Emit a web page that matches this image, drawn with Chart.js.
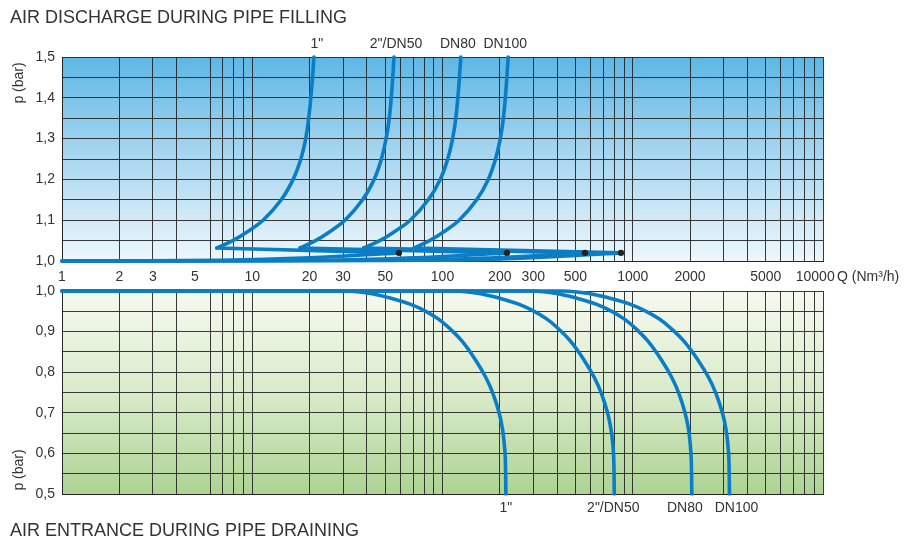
<!DOCTYPE html>
<html>
<head>
<meta charset="utf-8">
<script src="https://cdn.jsdelivr.net/npm/chart.js@4.4.0/dist/chart.umd.min.js"></script>
<style>
  body { margin: 0; background: #fff; }
  #wrap { position: relative; width: 907px; height: 540px; }
  #wrap canvas { position: absolute; left: 0; top: 0; }
</style>
</head>
<body>
<div id="wrap">
  <canvas id="fill" width="907" height="540"></canvas>
  <canvas id="drain" width="907" height="540"></canvas>
</div>
<script>
// valve sizes
const sizes = ['1"', '2"/DN50', 'DN80', 'DN100'];

// Q axis (Nm3/h), log scale
const qTicks = [1, 2, 3, 4, 5, 6, 7, 8, 9, 10, 20, 30, 40, 50, 60, 70, 80, 90,
  100, 200, 300, 400, 500, 600, 700, 800, 900, 1000, 2000, 3000, 4000, 5000,
  6000, 7000, 8000, 9000, 10000];
const qLabels = [1, 2, 3, 5, 10, 20, 30, 50, 100, 200, 300, 500, 1000, 2000, 5000, 10000];
const qNoLine = [5];

// filling: closing points (black dots)
const closeQ = [59, 218, 561, 867];
const closeP = [1.02, 1.02, 1.02, 1.02];

// filling: low branch from Q=1 up to the closing point
const fillBaseQ = [
  [1, 7, 20, 59],
  [1, 27, 73, 218],
  [1, 70, 187, 561],
  [1, 108, 289, 867]
];
const fillBaseP = [1.0, 1.002, 1.008, 1.02];

// filling: rising curves
const fillRiseP = [1.032, 1.05, 1.07, 1.1, 1.15, 1.2, 1.25, 1.3, 1.35, 1.42, 1.5];
const fillRiseQ = [
  [6.51, 7.9, 9.3, 11.4, 14.2, 16.4, 18.0, 19.1, 19.8, 20.5, 21.1],
  [17.8, 21.5, 25.2, 30.7, 38.0, 43.7, 47.7, 50.5, 52.5, 54.2, 55.6],
  [38.5, 46.8, 55.1, 67.7, 84.2, 97.3, 106.5, 113, 117.5, 121.4, 124.8],
  [70.9, 85.5, 100.3, 122.3, 151.2, 174, 189.9, 201.2, 208.9, 215.6, 221.5]
];

// draining curves
const drainP = [1.0, 1.0, 0.994, 0.981, 0.967, 0.95, 0.932, 0.912, 0.877, 0.829,
  0.787, 0.748, 0.702, 0.662, 0.623, 0.588, 0.5];
const drainQ = [
  [1, 31, 41.9, 54.8, 68.1, 81.7, 94.5, 106.6, 126.4, 149.7, 169, 184, 197.9, 206.4, 211.2, 213.8, 215.4],
  [1, 115.1, 155.8, 203.5, 253.1, 303.5, 351, 396.3, 469.5, 556.3, 628, 683.8, 735.2, 767, 784.9, 794.3, 800],
  [1, 294, 398.1, 519.8, 646.4, 775.2, 896.8, 1012, 1199, 1421, 1604, 1747, 1878, 1960, 2005, 2029, 2044],
  [1, 429.1, 588.3, 776.1, 973.6, 1176, 1368, 1552, 1852, 2209, 2505, 2736, 2952, 3085, 3160, 3200, 3224]
];

const blue = '#0b7dc5';
const gridColor = 'rgba(35,35,35,0.9)';
const textColor = '#333';
const font = '"Liberation Sans", Arial, Helvetica, sans-serif';

Chart.defaults.font.family = font;
Chart.defaults.font.size = 14;
Chart.defaults.color = textColor;

const pts = (qs, ps) => qs.map((q, i) => ({ x: q, y: ps[i] }));

function lineSet(data, tension) {
  return {
    type: 'line', data, borderColor: blue, borderWidth: 3.6,
    pointRadius: 0, fill: false, clip: 6, tension,
    borderCapStyle: 'round', borderJoinStyle: 'round'
  };
}

function xAxis(showLabels) {
  return {
    type: 'logarithmic', min: 1, max: 10000,
    afterBuildTicks: s => { s.ticks = qTicks.map(v => ({ value: v })); },
    afterFit: s => { s.height = showLabels ? 30 : 0; },
    grid: {
      drawTicks: false, lineWidth: 1,
      color: c => (c.tick && qNoLine.includes(c.tick.value)) ? 'rgba(0,0,0,0)' : gridColor
    },
    border: { color: gridColor },
    ticks: {
      display: showLabels, autoSkip: false, maxRotation: 0, padding: 8,
      callback: v => qLabels.includes(v) ? (v === 10000 ? '10000    ' : String(v)) : ''
    }
  };
}

function yAxis(min, max) {
  return {
    min, max,
    afterFit: s => { s.width = 62; },
    grid: { drawTicks: false, color: gridColor, lineWidth: 1 },
    border: { color: gridColor },
    ticks: {
      stepSize: 0.05, padding: 7,
      callback: v => Math.round(v * 100) % 10 === 0 ? v.toFixed(1).replace('.', ',') : ''
    }
  };
}

function bgPlugin(stops) {
  return {
    id: 'bg',
    beforeDraw(chart) {
      const { ctx, chartArea: a } = chart;
      const g = ctx.createLinearGradient(0, a.top, 0, a.bottom);
      stops.forEach(s => g.addColorStop(s[0], s[1]));
      ctx.save();
      ctx.fillStyle = g;
      ctx.fillRect(a.left, a.top, a.right - a.left, a.bottom - a.top);
      ctx.restore();
    }
  };
}

function vLabel(ctx, text, x, y) {
  ctx.save();
  ctx.translate(x, y);
  ctx.rotate(-Math.PI / 2);
  ctx.textAlign = 'center';
  ctx.textBaseline = 'middle';
  ctx.fillText(text, 0, 0);
  ctx.restore();
}

// filling chart
const fillSets = [];
sizes.forEach((s, i) => {
  fillSets.push(lineSet(pts(fillBaseQ[i], fillBaseP), 0.4));
  fillSets.push(lineSet([{ x: closeQ[i], y: closeP[i] }, { x: fillRiseQ[i][0], y: fillRiseP[0] }], 0));
  fillSets.push(lineSet(pts(fillRiseQ[i], fillRiseP), 0.4));
});
fillSets.push({
  type: 'line', data: pts(closeQ, closeP), showLine: false, order: -1,
  pointRadius: 3.2, pointBackgroundColor: '#222', pointBorderColor: '#222', pointBorderWidth: 0
});

const fillNudge = [3, 2, -3, -3];
new Chart('fill', {
  data: { datasets: fillSets },
  options: {
    responsive: false, animation: false,
    layout: { padding: { left: 0, top: 57, right: 84, bottom: 249 } },
    plugins: { legend: { display: false }, tooltip: { enabled: false } },
    scales: { x: xAxis(true), y: yAxis(1.0, 1.5) }
  },
  plugins: [
    bgPlugin([[0, '#5db7e6'], [0.45, '#a3d4ef'], [1, '#eef7fc']]),
    {
      id: 'fillText',
      afterDraw(chart) {
        const ctx = chart.ctx, x = chart.scales.x;
        ctx.save();
        ctx.fillStyle = textColor;
        ctx.font = '18px ' + font;
        ctx.textAlign = 'left';
        ctx.textBaseline = 'middle';
        ctx.fillText('AIR DISCHARGE DURING PIPE FILLING', 10, 18);
        ctx.font = '14px ' + font;
        vLabel(ctx, 'p (bar)', 19, 83);
        ctx.textAlign = 'center';
        sizes.forEach((s, i) => {
          const q = fillRiseQ[i][fillRiseQ[i].length - 1];
          ctx.fillText(s, x.getPixelForValue(q) + fillNudge[i], 44);
        });
        ctx.textAlign = 'left';
        ctx.fillText('Q (Nm\u00b3/h)', 837, 277);
        ctx.restore();
      }
    }
  ]
});

// draining chart
const drainNudge = [0, -1, -7, 7];
new Chart('drain', {
  data: { datasets: sizes.map((s, i) => lineSet(pts(drainQ[i], drainP), 0.4)) },
  options: {
    responsive: false, animation: false,
    layout: { padding: { left: 0, top: 291, right: 84, bottom: 46 } },
    plugins: { legend: { display: false }, tooltip: { enabled: false } },
    scales: { x: xAxis(false), y: yAxis(0.5, 1.0) }
  },
  plugins: [
    bgPlugin([[0, '#f6f9f1'], [0.5, '#d9ebca'], [1, '#aed394']]),
    {
      id: 'drainText',
      afterDraw(chart) {
        const ctx = chart.ctx, x = chart.scales.x;
        ctx.save();
        ctx.fillStyle = textColor;
        ctx.font = '14px ' + font;
        ctx.textBaseline = 'middle';
        vLabel(ctx, 'p (bar)', 19, 470);
        ctx.textAlign = 'center';
        sizes.forEach((s, i) => {
          const q = drainQ[i][drainQ[i].length - 1];
          ctx.fillText(s, x.getPixelForValue(q) + drainNudge[i], 508);
        });
        ctx.textAlign = 'left';
        ctx.font = '18px ' + font;
        ctx.fillText('AIR ENTRANCE DURING PIPE DRAINING', 10, 531);
        ctx.restore();
      }
    }
  ]
});
</script>
</body>
</html>
